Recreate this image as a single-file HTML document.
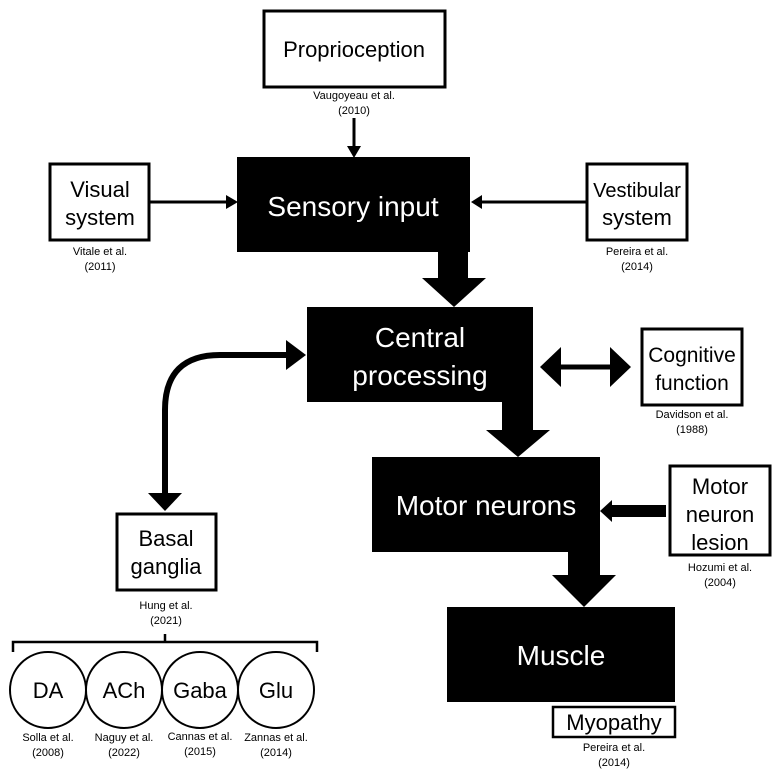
<!DOCTYPE html>
<html><head><meta charset="utf-8"><style>
html,body{margin:0;padding:0;background:#fff;}
svg{display:block;font-family:"Liberation Sans",sans-serif;}
.b{font-size:22px;text-anchor:middle;fill:#000;}
.w{font-size:28px;text-anchor:middle;fill:#fff;}
.r{font-size:11px;text-anchor:middle;fill:#000;}
</style></head><body>
<svg width="776" height="775" viewBox="0 0 776 775" xmlns="http://www.w3.org/2000/svg">
<g fill="none" stroke="#000" stroke-width="3">
<rect x="264" y="11" width="181" height="76"/>
<rect x="50" y="164" width="99" height="76"/>
<rect x="587" y="164" width="100" height="76"/>
<rect x="642" y="329" width="100" height="76"/>
<rect x="670" y="466" width="100" height="89"/>
<rect x="117" y="514" width="99" height="76"/>
<rect x="553" y="707" width="122" height="30" stroke-width="2.5"/>
<circle cx="48" cy="690" r="38" stroke-width="2"/>
<circle cx="124" cy="690" r="38" stroke-width="2"/>
<circle cx="200" cy="690" r="38" stroke-width="2"/>
<circle cx="276" cy="690" r="38" stroke-width="2"/>
<path d="M13 652 V642 H317 V652 M165 642 V634" stroke-width="2.5"/>
<line x1="354" y1="118" x2="354" y2="148"/>
<line x1="150" y1="202" x2="226" y2="202"/>
<line x1="587" y1="202" x2="482" y2="202"/>
<path d="M288 355 H220 Q165 355 165 410 V495" stroke-width="6"/>
<line x1="560" y1="367" x2="612" y2="367" stroke-width="5"/>
</g>
<g fill="#000">
<polygon points="347,146 361,146 354,158"/>
<polygon points="226,195 226,209 238,202"/>
<polygon points="482,195 482,209 471,202"/>
<polygon points="286,340 306,355 286,370"/>
<polygon points="148,493 182,493 165,511"/>
<polygon points="540,367 561,347 561,387"/>
<polygon points="631,367 610,347 610,387"/>
<rect x="611" y="505" width="55" height="12"/>
<polygon points="612,500 612,522 600,511"/>
<rect x="237" y="157" width="233" height="95"/>
<rect x="438" y="251" width="30" height="28"/>
<polygon points="422,278 486,278 454,307"/>
<rect x="307" y="307" width="226" height="95"/>
<rect x="502" y="401" width="31" height="30"/>
<polygon points="486,430 550,430 518,457"/>
<rect x="372" y="457" width="228" height="95"/>
<rect x="568" y="551" width="32" height="25"/>
<polygon points="552,575 616,575 584,607"/>
<rect x="447" y="607" width="228" height="95"/>
</g>
<text class="b" x="354" y="57">Proprioception</text>
<text class="r" x="354" y="99">Vaugoyeau et al.</text>
<text class="r" x="354" y="114">(2010)</text>
<text class="b" x="100" y="197">Visual</text>
<text class="b" x="100" y="225">system</text>
<text class="r" x="100" y="255">Vitale et al.</text>
<text class="r" x="100" y="270">(2011)</text>
<text class="b" x="637" y="197" style="font-size:20px">Vestibular</text>
<text class="b" x="637" y="225">system</text>
<text class="r" x="637" y="255">Pereira et al.</text>
<text class="r" x="637" y="270">(2014)</text>
<text class="w" x="353" y="216">Sensory input</text>
<text class="w" x="420" y="347">Central</text>
<text class="w" x="420" y="385">processing</text>
<text class="b" x="692" y="362" style="font-size:21px">Cognitive</text>
<text class="b" x="692" y="390" style="font-size:21px">function</text>
<text class="r" x="692" y="418">Davidson et al.</text>
<text class="r" x="692" y="433">(1988)</text>
<text class="w" x="486" y="515">Motor neurons</text>
<text class="b" x="720" y="494">Motor</text>
<text class="b" x="720" y="522">neuron</text>
<text class="b" x="720" y="550">lesion</text>
<text class="r" x="720" y="571">Hozumi et al.</text>
<text class="r" x="720" y="586">(2004)</text>
<text class="w" x="561" y="665">Muscle</text>
<text class="b" x="614" y="730">Myopathy</text>
<text class="r" x="614" y="751">Pereira et al.</text>
<text class="r" x="614" y="766">(2014)</text>
<text class="b" x="166" y="546">Basal</text>
<text class="b" x="166" y="574">ganglia</text>
<text class="r" x="166" y="609">Hung et al.</text>
<text class="r" x="166" y="624">(2021)</text>
<text class="b" x="48" y="698">DA</text>
<text class="b" x="124" y="698">ACh</text>
<text class="b" x="200" y="698">Gaba</text>
<text class="b" x="276" y="698">Glu</text>
<text class="r" x="48" y="741">Solla et al.</text>
<text class="r" x="48" y="756">(2008)</text>
<text class="r" x="124" y="741">Naguy et al.</text>
<text class="r" x="124" y="756">(2022)</text>
<text class="r" x="200" y="740">Cannas et al.</text>
<text class="r" x="200" y="755">(2015)</text>
<text class="r" x="276" y="741">Zannas et al.</text>
<text class="r" x="276" y="756">(2014)</text>
</svg>
</body></html>
